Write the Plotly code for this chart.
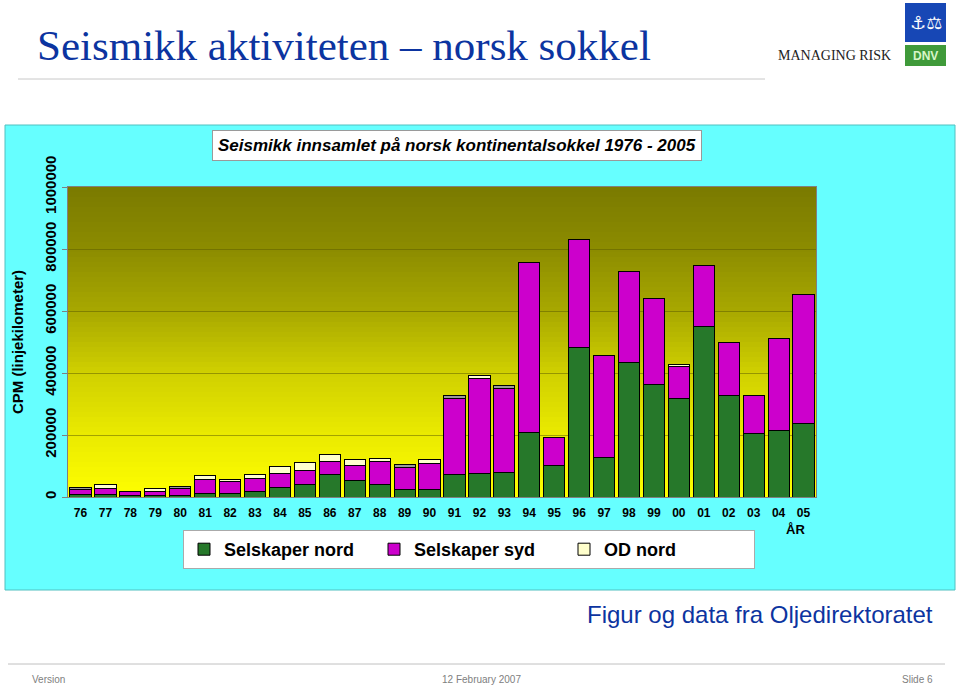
import plotly.graph_objects as go

# ---------------- data ----------------
years = ["76", "77", "78", "79", "80", "81", "82", "83", "84", "85",
         "86", "87", "88", "89", "90", "91", "92", "93", "94", "95",
         "96", "97", "98", "99", "00", "01", "02", "03", "04", "05"]

selskaper_nord = [8000, 8000, 5000, 5000, 5000, 11000, 11000, 19000, 30000, 41000,
                  71000, 52000, 41000, 23000, 23000, 73000, 76000, 80000, 207000, 102000,
                  483000, 127000, 433000, 362000, 319000, 549000, 326000, 206000, 214000, 236000]

selskaper_syd = [15000, 20000, 14000, 12000, 23000, 44000, 38000, 41000, 46000, 45000,
                 45000, 49000, 72000, 72000, 86000, 245000, 306000, 270000, 548000, 89000,
                 348000, 331000, 296000, 279000, 102000, 198000, 174000, 122000, 297000, 417000]

od_nord = [0, 12000, 0, 12000, 0, 13000, 7000, 11000, 23000, 26000,
           22000, 19000, 11000, 0, 11000, 0, 10000, 0, 0, 0,
           0, 0, 0, 0, 8000, 0, 0, 0, 0, 0]

od_grey = [8000, 0, 0, 0, 6000, 0, 0, 0, 0, 0,
           0, 0, 0, 11000, 0, 10000, 0, 11000, 0, 0,
           0, 0, 0, 0, 0, 0, 0, 0, 0, 0]

y_ticks = [0, 200000, 400000, 600000, 800000, 1000000]

# ---------------- layout geometry ----------------
W, H = 960, 685
L, R, T, B = 68, 816, 187, 497


def px(x):
    return (x - L) / (R - L)


def py(y):
    return (B - y) / (B - T)


fig = go.Figure()

bar_line = dict(color="black", width=1)
fig.add_trace(go.Bar(x=years, y=selskaper_nord, name="Selskaper nord",
                     marker=dict(color="#26782a", line=bar_line)))
fig.add_trace(go.Bar(x=years, y=selskaper_syd, name="Selskaper syd",
                     marker=dict(color="#cc00cc", line=bar_line)))
fig.add_trace(go.Bar(x=years, y=od_nord, name="OD nord",
                     marker=dict(color="#ffffcc", line=bar_line)))
fig.add_trace(go.Bar(x=years, y=od_grey, name="OD", showlegend=False,
                     marker=dict(color="#9a9a9a", line=bar_line)))

shapes = []
# cyan panel
shapes.append(dict(type="rect", xref="paper", yref="paper", layer="below",
                   x0=px(5), x1=px(955), y0=py(590), y1=py(125),
                   fillcolor="#66ffff", line=dict(color="#50c0c0", width=1)))
# gradient plot background
stops = [(0.0, 122), (0.2, 140), (0.4, 168), (0.6, 208), (0.8, 234), (1.0, 255)]


def shade(t):
    for (t0, v0), (t1, v1) in zip(stops[:-1], stops[1:]):
        if t0 <= t <= t1:
            return v0 + (v1 - v0) * (t - t0) / (t1 - t0)
    return 255


N = 62
for i in range(N):
    t = (i + 0.5) / N  # from top
    v = int(round(shade(t)))
    shapes.append(dict(type="rect", xref="x domain", yref="y domain", layer="below",
                       x0=0, x1=1, y0=1 - (i + 1) / N, y1=1 - i / N,
                       fillcolor=f"rgb({v},{v},0)", line=dict(width=0)))
# title underline
shapes.append(dict(type="line", xref="paper", yref="paper",
                   x0=px(18), x1=px(765), y0=py(79), y1=py(79),
                   line=dict(color="#c8c8c8", width=1)))
# footer line
shapes.append(dict(type="line", xref="paper", yref="paper",
                   x0=px(8), x1=px(945), y0=py(664), y1=py(664),
                   line=dict(color="#c0c0c0", width=1)))
# logo boxes
shapes.append(dict(type="rect", xref="paper", yref="paper",
                   x0=px(905), x1=px(946), y0=py(42), y1=py(3),
                   fillcolor="#1747b5", line=dict(width=0)))
shapes.append(dict(type="rect", xref="paper", yref="paper",
                   x0=px(905), x1=px(946), y0=py(66), y1=py(45),
                   fillcolor="#3f9a3a", line=dict(width=0)))

ann = []
ann.append(dict(text="Seismikk aktiviteten – norsk sokkel", x=px(35), y=py(45),
                xref="paper", yref="paper", xanchor="left", yanchor="middle", showarrow=False,
                font=dict(family="Liberation Serif, Times New Roman, serif", size=43, color="#0c34a0")))
ann.append(dict(text="MANAGING RISK", x=px(893), y=py(55),
                xref="paper", yref="paper", xanchor="right", yanchor="middle", showarrow=False,
                font=dict(family="Liberation Serif, Times New Roman, serif", size=14, color="#222222")))
ann.append(dict(text="⚓⚖", x=px(925.5), y=py(22),
                xref="paper", yref="paper", xanchor="center", yanchor="middle", showarrow=False,
                font=dict(family="DejaVu Sans", size=18, color="white")))
ann.append(dict(text="<b>DNV</b>", x=px(925.5), y=py(56),
                xref="paper", yref="paper", xanchor="center", yanchor="middle", showarrow=False,
                font=dict(family="Liberation Sans, Arial", size=12, color="#d8f5c8")))
ann.append(dict(text="Seismikk innsamlet på norsk kontinentalsokkel 1976 - 2005",
                x=px(457), y=py(145.5), xref="paper", yref="paper",
                xanchor="center", yanchor="middle", showarrow=False,
                bgcolor="white", bordercolor="#9a9a9a", borderwidth=1, borderpad=5,
                font=dict(family="Liberation Sans, Arial", size=17, color="black",
                          weight="bold", style="italic")))
ann.append(dict(text="<b>ÅR</b>", x=px(795), y=py(529), xref="paper", yref="paper",
                xanchor="center", yanchor="middle", showarrow=False,
                font=dict(family="Liberation Sans, Arial", size=13, color="black")))
ann.append(dict(text="Figur og data fra Oljedirektoratet", x=px(935), y=py(614),
                xref="paper", yref="paper", xanchor="right", yanchor="middle", showarrow=False,
                font=dict(family="Liberation Sans, Arial", size=24, color="#0c34a0")))
foot_font = dict(family="Liberation Sans Narrow, Liberation Sans, Arial", size=10, color="#808080")
ann.append(dict(text="Version", x=px(30), y=py(679), xref="paper", yref="paper",
                xanchor="left", yanchor="middle", showarrow=False, font=foot_font))
ann.append(dict(text="12 February 2007", x=px(481), y=py(679), xref="paper", yref="paper",
                xanchor="center", yanchor="middle", showarrow=False, font=foot_font))
ann.append(dict(text="Slide 6", x=px(935), y=py(679), xref="paper", yref="paper",
                xanchor="right", yanchor="middle", showarrow=False, font=foot_font))

fig.update_layout(
    width=W, height=H,
    margin=dict(l=L, r=W - R, t=T, b=H - B, pad=0),
    paper_bgcolor="white",
    plot_bgcolor="rgba(0,0,0,0)",
    barmode="stack",
    bargap=0.15,
    shapes=shapes,
    annotations=ann,
    showlegend=True,
    legend=dict(orientation="h", x=px(183), y=py(530), xanchor="left", yanchor="top",
                bgcolor="white", bordercolor="#aaaaaa", borderwidth=1,
                traceorder="normal", itemwidth=30, entrywidth=145,
                font=dict(family="Liberation Sans, Arial", size=18, color="black", weight="bold")),
    font=dict(family="Liberation Sans, Arial", color="black"),
)

fig.update_xaxes(
    showline=True, linecolor="#808080", linewidth=1, mirror=True,
    showgrid=False, ticks="", ticklabelstandoff=5,
    tickfont=dict(family="Liberation Sans, Arial", size=12, color="black", weight="bold"),
)
fig.update_yaxes(
    range=[0, 1000000], tickvals=y_ticks, ticktext=[str(v) for v in y_ticks],
    tickangle=-90, ticks="outside", ticklen=5, tickcolor="#808080",
    showline=True, linecolor="#808080", linewidth=1, mirror=True,
    showgrid=True, gridcolor="rgba(90,90,0,0.5)", gridwidth=1, zeroline=False,
    tickfont=dict(family="Liberation Sans, Arial", size=15, color="black", weight="bold"),
    title=dict(text="CPM (linjekilometer)", standoff=14,
               font=dict(family="Liberation Sans, Arial", size=15, color="black", weight="bold")),
)

fig.write_html("out.html", config={"displayModeBar": False},
               post_script="document.body.style.margin='0px';")
